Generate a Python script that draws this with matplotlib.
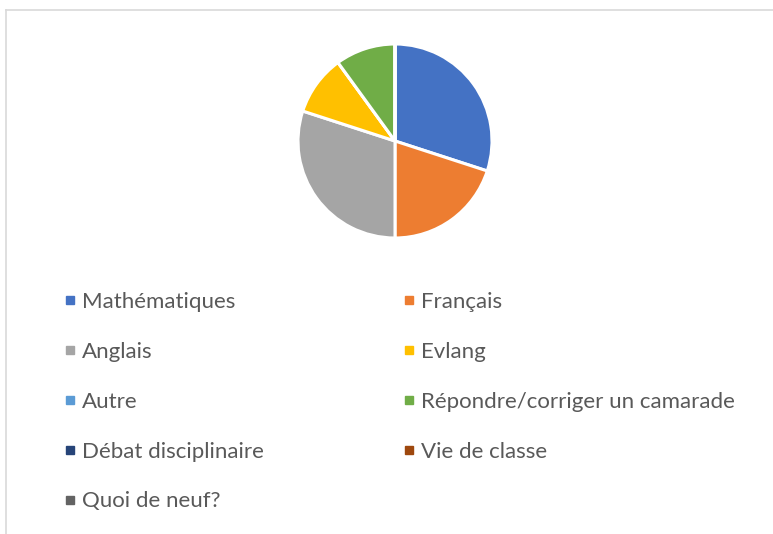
import matplotlib
matplotlib.use("Agg")
import matplotlib.pyplot as plt
from matplotlib.lines import Line2D

plt.rcParams['font.family'] = ['Lato', 'DejaVu Sans']

categories = ["Mathématiques", "Français", "Anglais", "Evlang", "Autre",
              "Répondre/corriger un camarade", "Débat disciplinaire",
              "Vie de classe", "Quoi de neuf?"]
values = [30, 20, 30, 10, 0, 10, 0, 0, 0]
colors = ["#4472C4", "#ED7D31", "#A5A5A5", "#FFC000", "#5B9BD5",
          "#70AD47", "#264478", "#9E480E", "#636363"]

W, H = 773, 534
fig = plt.figure(figsize=(W / 100, H / 100), dpi=100)

cx, cy, r = 395, 141, 97
ax = fig.add_axes([(cx - r) / W, (H - cy - r) / H, 2 * r / W, 2 * r / H])
ax.pie(values, colors=colors, startangle=90, counterclock=False,
       wedgeprops=dict(edgecolor="white", linewidth=2.2))
ax.set_xlim(-1, 1)
ax.set_ylim(-1, 1)
ax.set_aspect("equal")

# legend: row-major order in reference -> reorder for column-major fill
handles = [Line2D([], [], linestyle="none", marker="s", markersize=6.1,
                  markerfacecolor=c, markeredgecolor=c) for c in colors]
order = [0, 2, 4, 6, 8, 1, 3, 5, 7]
leg = fig.legend([handles[i] for i in order], [categories[i] for i in order],
                 ncol=2, loc="upper left",
                 bbox_to_anchor=(64.5 / W, 1 - 291.5 / H),
                 frameon=False, fontsize=16, labelcolor="#595959",
                 handlelength=0.5, handletextpad=0.29,
                 columnspacing=6.3, labelspacing=1.35, borderpad=0,
                 borderaxespad=0)

# chart border (light grey)
fig.add_artist(Line2D([5.5 / W, 1], [1 - 9.5 / H, 1 - 9.5 / H],
                      color="#d9d9d9", linewidth=1.2, transform=fig.transFigure))
fig.add_artist(Line2D([5.5 / W, 5.5 / W], [0, 1 - 9.5 / H],
                      color="#d9d9d9", linewidth=1.2, transform=fig.transFigure))

fig.savefig("out.png", dpi=100, facecolor="white")
